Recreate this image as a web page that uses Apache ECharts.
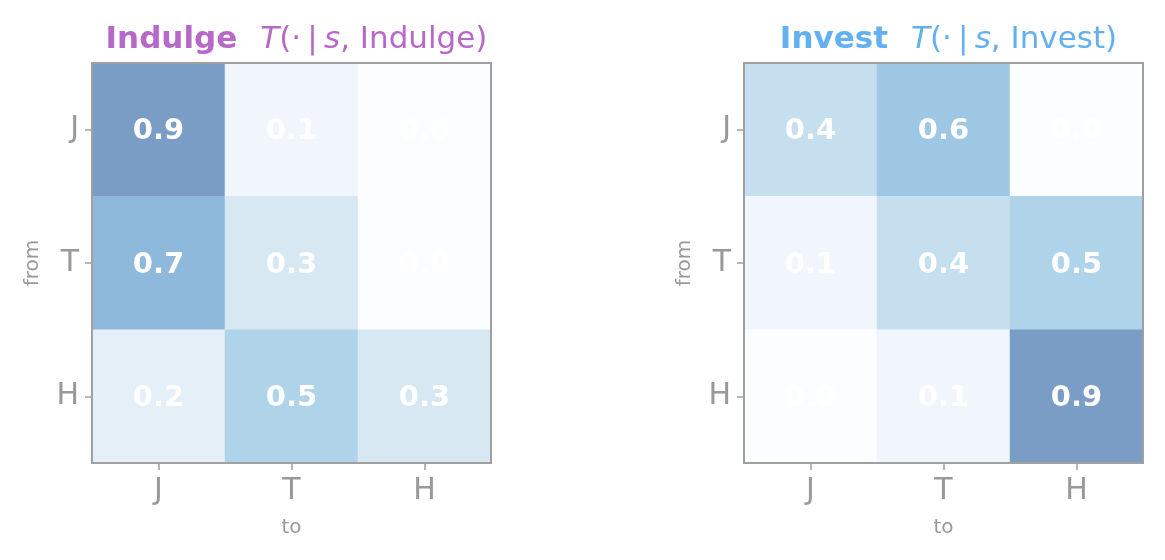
<!DOCTYPE html>
<html>
<head>
<meta charset="utf-8">
<script src="https://cdn.jsdelivr.net/npm/echarts@6/dist/echarts.min.js"></script>
<style>
  html, body { margin: 0; padding: 0; background: #fff; }
  #chart { width: 1165px; height: 560px; }
</style>
</head>
<body>
<div id="chart"></div>
<script>
// states
var states = ['J', 'T', 'H'];
// transition matrices, rows = from, cols = to
var indulge = [
  [0.9, 0.1, 0.0],
  [0.7, 0.3, 0.0],
  [0.2, 0.5, 0.3]
];
var invest = [
  [0.4, 0.6, 0.0],
  [0.1, 0.4, 0.5],
  [0.0, 0.1, 0.9]
];
var actions = ['Indulge', 'Invest'];
var actionColors = ['#b868c8', '#62b0f0'];

// Blues colormap faded over white
var blues = ['#fbfdff', '#edf4fb', '#e0ecf6', '#cbe2ef', '#afd3e9',
             '#99c4e0', '#87b2d7', '#7aa1ca', '#7a8faf'];

function toCells(m) {
  var out = [];
  for (var r = 0; r < m.length; r++) {
    for (var c = 0; c < m[r].length; c++) {
      out.push([c, r, m[r][c]]);
    }
  }
  return out;
}

var font = 'DejaVu Sans';
var gray = '#999999';
var lineGray = '#a0a0a0';
var lefts = [92, 744];

function makeTitle(i) {
  var a = actions[i];
  var col = actionColors[i];
  return {
    text: '{b|' + a + '}{i|T}{n|(·\u2009|\u2009}{i|s}{n|, ' + a + ')}',
    left: lefts[i] + 199.5,
    textAlign: 'center',
    top: 19,
    textStyle: {
      rich: {
        b: { fontFamily: font, fontWeight: 'bold', fontSize: 31, color: col, padding: [0, 23, 0, 0] },
        i: { fontFamily: font, fontWeight: 'normal', fontStyle: 'italic', fontSize: 31, color: col },
        n: { fontFamily: font, fontWeight: 'normal', fontSize: 31, color: col }
      }
    }
  };
}

function tickStyle() {
  return { show: true, alignWithLabel: true, length: 7, lineStyle: { color: lineGray, width: 1.5 } };
}

var grids = [], xAxes = [], yAxes = [], series = [];
[indulge, invest].forEach(function (m, i) {
  grids.push({
    left: lefts[i], top: 63, width: 399, height: 400,
    show: true, z: 10, borderColor: lineGray, borderWidth: 2, backgroundColor: 'transparent'
  });
  xAxes.push({
    type: 'category', data: states, gridIndex: i,
    name: 'to', nameLocation: 'middle', nameGap: 55,
    nameTextStyle: { fontFamily: font, fontSize: 20, color: gray },
    axisLine: { show: false },
    axisTick: tickStyle(),
    axisLabel: { fontFamily: font, fontSize: 30, color: gray, margin: 13 },
    splitLine: { show: false }
  });
  yAxes.push({
    type: 'category', data: states, gridIndex: i, inverse: true,
    name: 'from', nameLocation: 'middle', nameGap: 49, nameRotate: 90,
    nameTextStyle: { fontFamily: font, fontSize: 20, color: gray },
    axisLine: { show: false },
    axisTick: tickStyle(),
    axisLabel: { fontFamily: font, fontSize: 30, color: gray, margin: 13 },
    splitLine: { show: false }
  });
  series.push({
    type: 'heatmap', xAxisIndex: i, yAxisIndex: i,
    data: toCells(m),
    label: {
      show: true, fontFamily: font, fontWeight: 'bold', fontSize: 29, color: '#ffffff',
      offset: [0, 2],
      formatter: function (p) { return p.value[2].toFixed(1); }
    },
    emphasis: { disabled: true }
  });
});

var chart = echarts.init(document.getElementById('chart'));
chart.setOption({
  animation: false,
  title: [makeTitle(0), makeTitle(1)],
  visualMap: {
    show: false, type: 'continuous', min: 0, max: 1, dimension: 2,
    seriesIndex: [0, 1], inRange: { color: blues }
  },
  grid: grids,
  xAxis: xAxes,
  yAxis: yAxes,
  series: series
});
</script>
</body>
</html>
